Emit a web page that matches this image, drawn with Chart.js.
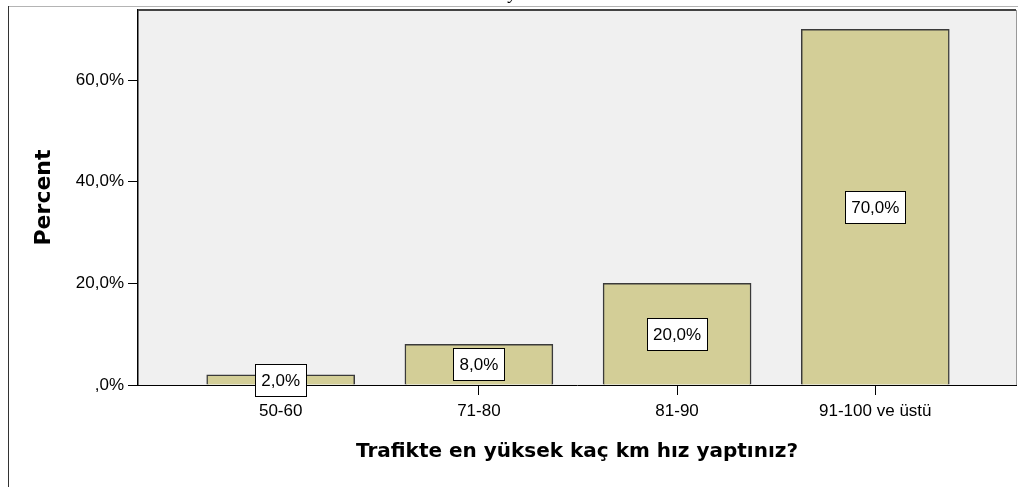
<!DOCTYPE html>
<html>
<head>
<meta charset="utf-8">
<script src="https://cdn.jsdelivr.net/npm/chart.js@4"></script>
<style>
  html, body { margin: 0; padding: 0; background: #fff; }
  #wrap { width: 1018px; height: 487px; }
</style>
</head>
<body>
<div id="wrap"><canvas id="grafico" width="1018" height="487"></canvas></div>
<script>
const kategoriler = ["50-60", "71-80", "81-90", "91-100 ve üstü"];
const yuzdeler = [2, 8, 20, 70];
const yTikler = [0, 20, 40, 60];

function yuzdeYaz(v) {
  if (v === 0) return ",0%";
  return v.toFixed(1).replace(".", ",") + "%";
}

// arka plan, cerceve ve kutulu etiketler
const cizimEklentisi = {
  id: "cizim",
  beforeDraw(chart) {
    const { ctx, chartArea: a } = chart;
    ctx.save();
    ctx.fillStyle = "#F0F0F0";
    ctx.fillRect(a.left, a.top, a.right - a.left, a.bottom - a.top);
    ctx.restore();
  },
  afterDraw(chart) {
    const { ctx, chartArea: a } = chart;
    ctx.save();
    // dis cerceve
    ctx.strokeStyle = "#B4B4B4";
    ctx.lineWidth = 1;
    ctx.beginPath();
    ctx.moveTo(8, 6.5);
    ctx.lineTo(1018, 6.5);
    ctx.stroke();
    ctx.strokeStyle = "#333";
    ctx.beginPath();
    ctx.moveTo(8.5, 6);
    ctx.lineTo(8.5, 487);
    ctx.stroke();
    // grafik alani ust ve sag kenar
    ctx.strokeStyle = "#444";
    ctx.lineWidth = 2;
    ctx.beginPath();
    ctx.moveTo(a.left, a.top);
    ctx.lineTo(a.right, a.top);
    ctx.stroke();
    ctx.strokeStyle = "#999";
    ctx.lineWidth = 1;
    ctx.beginPath();
    ctx.moveTo(a.right + 0.5, a.top);
    ctx.lineTo(a.right + 0.5, a.bottom);
    ctx.stroke();
    // kesik baslik parcasi
    ctx.fillStyle = "#000";
    ctx.font = "italic 18px 'Liberation Serif'";
    ctx.textAlign = "center";
    ctx.textBaseline = "alphabetic";
    ctx.fillText("y", 513, -1);
    // etiketler
    ctx.font = "17px 'Liberation Sans'";
    ctx.textBaseline = "middle";
    const meta = chart.getDatasetMeta(0);
    meta.data.forEach((bar, i) => {
      const txt = yuzdeYaz(yuzdeler[i]);
      const w = Math.round(ctx.measureText(txt).width) + 12;
      const h = 32;
      const cy = Math.round((bar.y + bar.base) / 2);
      const x0 = Math.round(bar.x - w / 2) + 0.5;
      const y0 = cy - h / 2 + 0.5;
      ctx.fillStyle = "#fff";
      ctx.fillRect(x0, y0, w, h);
      ctx.strokeStyle = "#000";
      ctx.lineWidth = 1;
      ctx.strokeRect(x0, y0, w, h);
      ctx.fillStyle = "#000";
      ctx.fillText(txt, bar.x, cy + 1);
    });
    ctx.restore();
  }
};

new Chart(document.getElementById("grafico"), {
  type: "bar",
  data: {
    datasets: [
      {
        data: yuzdeler.map((v, i) => ({ x: i, y: v })),
        backgroundColor: "#D3CE97",
        borderColor: "#3A3A3A",
        borderWidth: 1.5,
        barThickness: 148,
      },
    ],
  },
  options: {
    responsive: false,
    animation: false,
    layout: { padding: { top: 10, right: 2, left: 0, bottom: 0 } },
    plugins: { legend: { display: false }, tooltip: { enabled: false } },
    scales: {
      x: {
        type: "linear",
        offset: false,
        min: -0.72,
        max: 3.71,
        afterBuildTicks(scale) {
          scale.ticks = kategoriler.map((_, i) => ({ value: i }));
        },
        afterFit(scale) {
          scale.height = 102;
          scale.paddingLeft = 0;
          scale.paddingRight = 0;
        },
        ticks: {
          callback: (v) => kategoriler[v],
          color: "#000",
          font: { family: "'Liberation Sans'", size: 17 },
          padding: 6,
          maxRotation: 0,
          autoSkip: false,
        },
        grid: { offset: false, drawOnChartArea: false, tickLength: 10, color: "#000" },
        border: { color: "#000", width: 1 },
        title: {
          display: true,
          text: "Trafikte en yüksek kaç km hız yaptınız?",
          color: "#000",
          font: { family: "'DejaVu Sans'", size: 20, weight: "bold" },
          padding: { top: 0, bottom: 23 },
        },
      },
      y: {
        min: 0,
        max: 73.8,
        afterBuildTicks(scale) {
          scale.ticks = yTikler.map((v) => ({ value: v }));
        },
        afterFit(scale) {
          scale.width = 138;
          scale.paddingTop = 0;
          scale.paddingBottom = 0;
        },
        ticks: {
          callback: (v) => yuzdeYaz(v),
          color: "#000",
          font: { family: "'Liberation Sans'", size: 17 },
          padding: 4,
        },
        grid: { drawOnChartArea: false, tickLength: 10, color: "#000" },
        border: { color: "#000", width: 1.5 },
        title: {
          display: true,
          text: "Percent",
          color: "#000",
          font: { family: "'DejaVu Sans'", size: 22, weight: "bold" },
          padding: { top: 31, bottom: 0 },
        },
      },
    },
  },
  plugins: [cizimEklentisi],
});
</script>
</body>
</html>
